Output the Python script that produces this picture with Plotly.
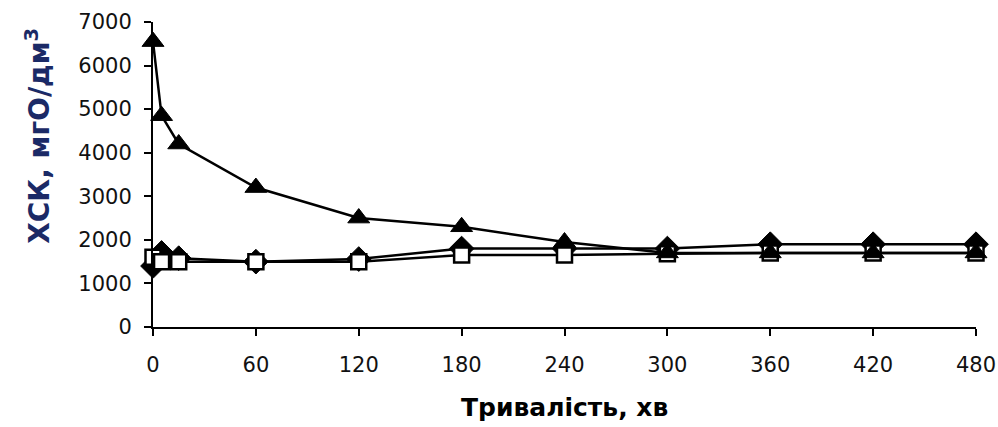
import plotly.graph_objects as go

time_min = [0, 5, 15, 60, 120, 180, 240, 300, 360, 420, 480]
series_diamond = [1400, 1700, 1580, 1500, 1560, 1800, 1800, 1800, 1900, 1900, 1900]
series_square = [1600, 1500, 1500, 1500, 1500, 1650, 1650, 1680, 1700, 1700, 1700]
series_triangle = [6550, 4850, 4200, 3200, 2500, 2300, 1950, 1700, 1700, 1700, 1700]
x_ticks = [0, 60, 120, 180, 240, 300, 360, 420, 480]
y_ticks = [0, 1000, 2000, 3000, 4000, 5000, 6000, 7000]

fig = go.Figure()
fig.add_trace(go.Scatter(
    x=time_min, y=series_diamond, mode="lines+markers", cliponaxis=False,
    line=dict(color="black", width=2.5),
    marker=dict(symbol="diamond", size=19, color="black", line=dict(color="black", width=1)),
))
fig.add_trace(go.Scatter(
    x=time_min, y=series_square, mode="lines+markers", cliponaxis=False,
    line=dict(color="black", width=2.5),
    marker=dict(symbol="square", size=15, color="white", line=dict(color="black", width=2.5)),
))
fig.add_trace(go.Scatter(
    x=time_min, y=series_triangle, mode="lines+markers", cliponaxis=False,
    line=dict(color="black", width=2.5),
    marker=dict(symbol="triangle-up", size=19, color="black", line=dict(color="black", width=1)),
))

axis_font = dict(family="DejaVu Sans", size=21, color="#111111")
fig.update_layout(
    width=998, height=427,
    margin=dict(l=153, r=22, t=22, b=100),
    paper_bgcolor="white", plot_bgcolor="white",
    showlegend=False,
    xaxis=dict(range=[0, 480], tickvals=x_ticks, ticks="outside", ticklen=7, tickwidth=2,
               tickcolor="black", showline=True, linecolor="black", linewidth=2,
               showgrid=False, zeroline=False, tickfont=axis_font, ticklabelstandoff=11,
               automargin=False),
    yaxis=dict(range=[0, 7000], tickvals=y_ticks, ticks="outside", ticklen=7, tickwidth=2,
               tickcolor="black", showline=True, linecolor="black", linewidth=2,
               showgrid=False, zeroline=False, tickfont=axis_font, ticklabelstandoff=8,
               automargin=False),
    annotations=[
        dict(text="<b>Тривалість, хв</b>", x=0.5, y=-0.263, xref="paper", yref="paper",
             showarrow=False, xanchor="center", yanchor="middle",
             font=dict(family="DejaVu Sans", size=25, color="black")),
        dict(text="<b>ХСК, мгО/дм<sup>3</sup></b>", x=-0.14, y=0.626, xref="paper", yref="paper",
             textangle=-90, showarrow=False, xanchor="center", yanchor="middle",
             font=dict(family="DejaVu Sans", size=28, color="#1b2a66")),
    ],
)
fig.write_html(
    "out.html",
    config={"displayModeBar": False},
    post_script="document.body.style.margin='0';document.body.style.overflow='hidden';",
)
